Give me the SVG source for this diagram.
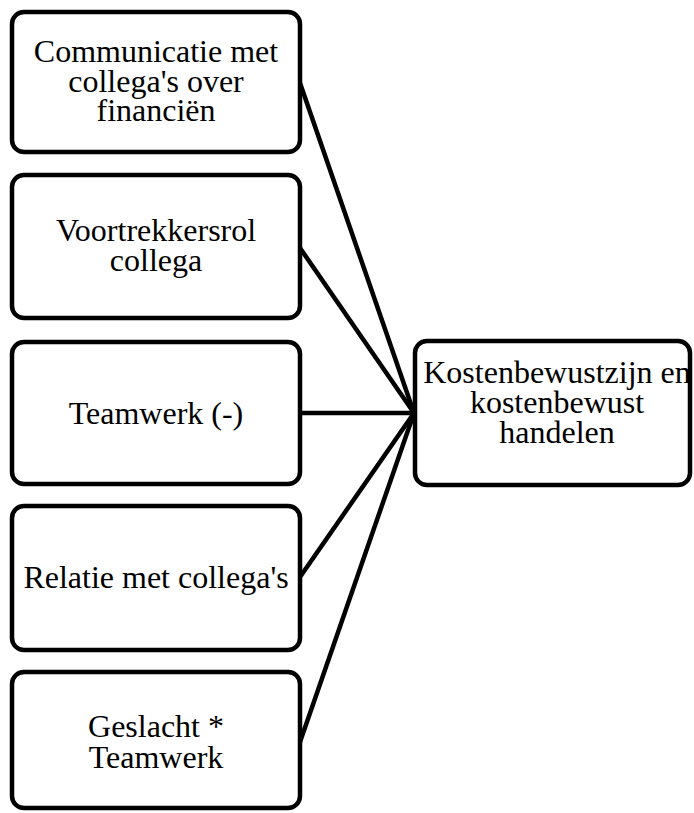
<svg xmlns="http://www.w3.org/2000/svg" width="694" height="813" viewBox="0 0 694 813">
<style>
.box{fill:#fff;stroke:#000;stroke-width:4.5}
.t{font-family:"Liberation Serif","Times New Roman",serif;font-size:32px;fill:#000;text-anchor:middle}
.c{stroke:#000;stroke-width:4.5;fill:none}
</style>
<rect width="694" height="813" fill="#fff"/>
<g id="connectors">
<line class="c" x1="300" y1="83" x2="414" y2="413"/>
<line class="c" x1="300" y1="248" x2="414" y2="413"/>
<line class="c" x1="300" y1="413" x2="414" y2="413"/>
<line class="c" x1="300" y1="577" x2="414" y2="413"/>
<line class="c" x1="300" y1="742" x2="414" y2="413"/>
</g>
<g id="n1">
<rect class="box" x="12" y="12" width="288" height="140" rx="12"/>
<text class="t" x="156" y="62">Communicatie met</text>
<text class="t" x="156" y="92">collega's over</text>
<text class="t" x="156" y="121">financiën</text>
</g>
<g id="n2">
<rect class="box" x="12" y="175" width="288" height="143" rx="12"/>
<text class="t" x="156" y="241">Voortrekkersrol</text>
<text class="t" x="156" y="271">collega</text>
</g>
<g id="n3">
<rect class="box" x="12" y="342" width="288" height="142" rx="12"/>
<text class="t" x="156" y="424">Teamwerk (-)</text>
</g>
<g id="n4">
<rect class="box" x="12" y="506" width="288" height="144" rx="12"/>
<text class="t" x="156" y="588">Relatie met collega's</text>
</g>
<g id="n5">
<rect class="box" x="12" y="672" width="288" height="136" rx="12"/>
<text class="t" x="156" y="737">Geslacht *</text>
<text class="t" x="156" y="768">Teamwerk</text>
</g>
<g id="n6">
<rect class="box" x="415" y="341" width="275" height="144" rx="12"/>
<text class="t" x="557" y="383">Kostenbewustzijn en</text>
<text class="t" x="557" y="413">kostenbewust</text>
<text class="t" x="557" y="443">handelen</text>
</g>
</svg>
